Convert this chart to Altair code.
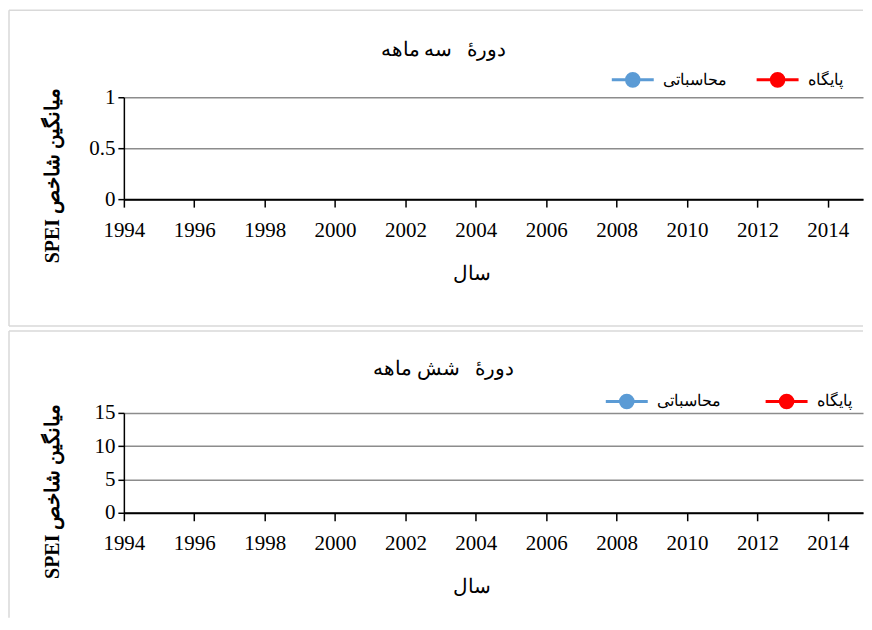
import altair as alt

# ---- data (the reference panels show no plotted values) ----
years = [1994, 1996, 1998, 2000, 2002, 2004, 2006, 2008, 2010, 2012, 2014]
series_names = ["محاسباتی", "پایگاه"]
series_colors = ["#5b9bd5", "#ff0000"]

spei3_years = []
spei3_base = []
spei3_calc = []
spei6_years = []
spei6_base = []
spei6_calc = []

y3_ticks = [0, 0.5, 1]
y6_ticks = [0, 5, 10, 15]

title3 = "دورهٔ\u00a0\u00a0\u00a0سه ماهه"
title6 = "دورهٔ\u00a0\u00a0\u00a0شش ماهه"
y_title = "\u202bمیانگین شاخص SPEI\u202c"
x_title = "سال"

FONT = "Liberation Serif"
SYMBOL = "M-1,0L1,0M0.3,0A0.3,0.3,0,1,1,-0.3,0A0.3,0.3,0,1,1,0.3,0Z"
PLOT_W = 740


def records(yrs, base, calc):
    rows = []
    for yr, v in zip(yrs, base):
        rows.append({"year": yr, "value": v, "series": "پایگاه"})
    for yr, v in zip(yrs, calc):
        rows.append({"year": yr, "value": v, "series": "محاسباتی"})
    return rows


def panel(title, rows, y_ticks, plot_h, legend_x, legend_y, legend_gap,
          title_off, border_top, border_bottom, draw_bottom):
    color_scale = alt.Scale(domain=series_names, range=series_colors)
    legend = alt.Legend(
        orient="none", legendX=legend_x, legendY=legend_y,
        direction="horizontal", title=None, symbolType=SYMBOL,
        symbolSize=1764, symbolStrokeWidth=3, symbolOpacity=1,
        labelFont=FONT, labelFontSize=16, labelColor="#000000",
        labelOffset=8, columnPadding=legend_gap, padding=0,
    )
    pts = alt.Chart(alt.Data(values=rows)).mark_point(
        filled=True, opacity=1, size=90, strokeWidth=3
    ).encode(
        x=alt.X("year:Q",
                scale=alt.Scale(domain=[1994, 2015], nice=False, zero=False),
                axis=alt.Axis(values=years, format="d", title=x_title,
                              titleFont=FONT, titleFontSize=20,
                              titleFontWeight="normal", titleColor="#000000",
                              titleX=348, titleY=74, titleBaseline="middle",
                              labelFont=FONT, labelFontSize=21,
                              labelColor="#000000", labelPadding=12,
                              labelAngle=0, labelFlush=False,
                              labelOverlap=False, tickColor="#000000",
                              tickSize=8, tickWidth=1.5,
                              domainColor="#000000", domainWidth=2,
                              grid=False)),
        y=alt.Y("value:Q",
                scale=alt.Scale(domain=[y_ticks[0], y_ticks[-1]], nice=False),
                axis=alt.Axis(values=y_ticks, format="~g", title=y_title,
                              titleFont=FONT, titleFontSize=20,
                              titleFontWeight="bold", titleColor="#000000",
                              titleAngle=270, titleX=-61, titleY=78,
                              titleAlign="center",
                              labelFont=FONT, labelFontSize=21,
                              labelColor="#000000", labelPadding=3,
                              tickColor="#000000", tickSize=6, tickWidth=1.5,
                              domainColor="#000000", domainWidth=1.5,
                              grid=True, gridColor="#8c8c8c", gridWidth=1.5)),
        fill=alt.Fill("series:N", scale=color_scale, legend=legend),
        stroke=alt.Stroke("series:N", scale=color_scale, legend=legend),
    )
    one = alt.Data(values=[{"k": 1}])
    bcol = "#d9d9d9"
    top = alt.Chart(one).mark_rule(color=bcol, strokeWidth=1.5).encode(
        x=alt.value(-115), x2=alt.value(PLOT_W), y=alt.value(border_top))
    left = alt.Chart(one).mark_rule(color=bcol, strokeWidth=1.5).encode(
        x=alt.value(-115), y=alt.value(border_top), y2=alt.value(border_bottom))
    layers = [top, left]
    if draw_bottom:
        bottom = alt.Chart(one).mark_rule(color=bcol, strokeWidth=1.5).encode(
            x=alt.value(-115), x2=alt.value(PLOT_W), y=alt.value(border_bottom))
        layers.append(bottom)
    layers.append(pts)
    return alt.layer(*layers).properties(
        width=PLOT_W, height=plot_h,
        title=alt.TitleParams(text=title, frame="group", anchor="middle",
                              dx=-50, offset=title_off, baseline="middle",
                              font=FONT, fontSize=20, fontWeight="normal",
                              color="#000000"),
    )


p3 = panel(title3, records(spei3_years, spei3_base, spei3_calc), y3_ticks,
           102, 487, -40, 23, -60, -87, 229, True)
p6 = panel(title6, records(spei6_years, spei6_base, spei6_calc), y6_ticks,
           100, 481, -34, 38, -59, -82, 205, False)

chart = alt.vconcat(p3, p6, spacing=3).resolve_scale(
    fill="independent", stroke="independent"
).resolve_legend(
    fill="independent", stroke="independent"
).properties(
    padding={"top": 1, "left": 0, "right": 0, "bottom": 0},
    background="#ffffff",
).configure_view(stroke=None)

chart.save("out.html", embed_options={"renderer": "svg", "actions": False})
